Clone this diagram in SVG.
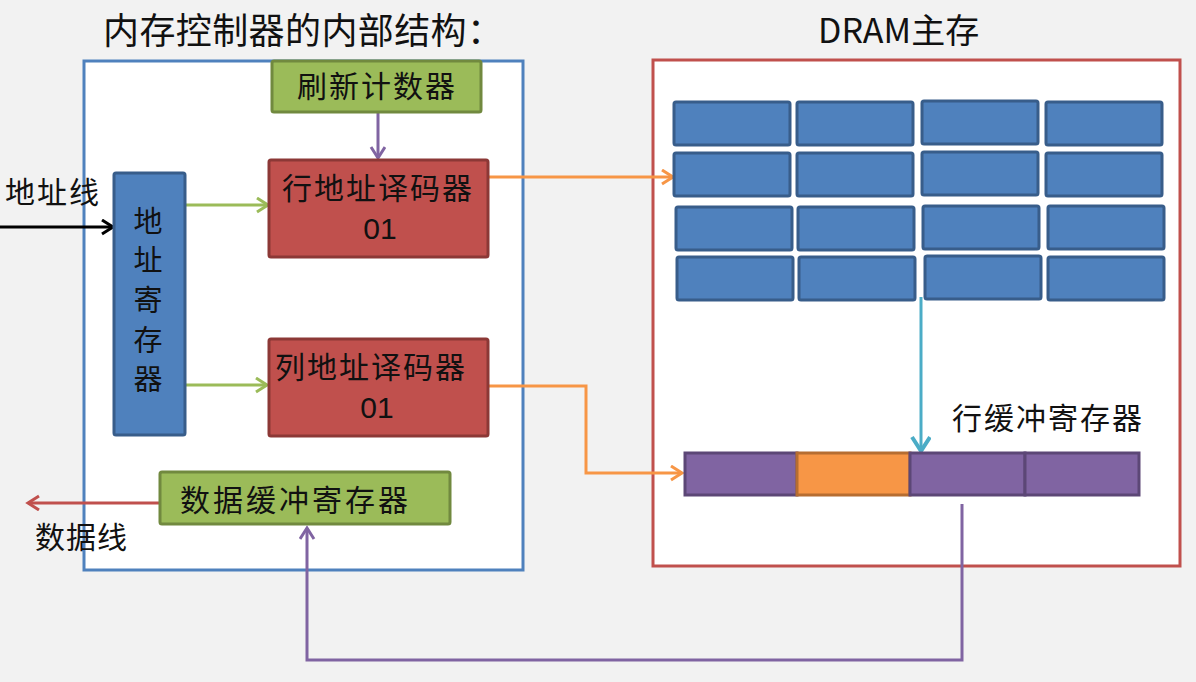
<svg xmlns="http://www.w3.org/2000/svg" width="1196" height="682" viewBox="0 0 1196 682">
<style>
text{font-family:"Noto Sans CJK SC","Liberation Sans",sans-serif;fill:#111;}
.cj{font-size:30px;letter-spacing:2px;}
.vt{font-size:29px;}
.num{font-family:"Liberation Sans","Noto Sans CJK SC",sans-serif;font-size:30px;}
.green{fill:#9bbb59;stroke:#71893f;stroke-width:3;}
.red{fill:#c0504d;stroke:#8c3836;stroke-width:3;}
.blue{fill:#4f81bd;stroke:#385d8a;stroke-width:3;}
.pur{fill:#8064a2;stroke:#5c4776;stroke-width:3;}
.org{fill:#f79646;stroke:#b66d31;stroke-width:3;}
.ln{fill:none;stroke-width:3;}
</style>
<defs>
<marker id="aK" markerUnits="userSpaceOnUse" markerWidth="16" markerHeight="18" refX="13" refY="8" orient="auto"><path d="M2,1 L13,8 L2,15" fill="none" stroke="#000" stroke-width="3"/></marker>
<marker id="aG" markerUnits="userSpaceOnUse" markerWidth="16" markerHeight="18" refX="13" refY="8" orient="auto"><path d="M2,1 L13,8 L2,15" fill="none" stroke="#9bbb59" stroke-width="3"/></marker>
<marker id="aP" markerUnits="userSpaceOnUse" markerWidth="16" markerHeight="18" refX="13" refY="8" orient="auto"><path d="M2,1 L13,8 L2,15" fill="none" stroke="#8064a2" stroke-width="3"/></marker>
<marker id="aO" markerUnits="userSpaceOnUse" markerWidth="16" markerHeight="18" refX="13" refY="8" orient="auto"><path d="M2,1 L13,8 L2,15" fill="none" stroke="#f79646" stroke-width="3"/></marker>
<marker id="aR" markerUnits="userSpaceOnUse" markerWidth="16" markerHeight="18" refX="13" refY="8" orient="auto"><path d="M2,1 L13,8 L2,15" fill="none" stroke="#c0504d" stroke-width="3"/></marker>
<marker id="aT" markerUnits="userSpaceOnUse" markerWidth="20" markerHeight="22" refX="16" refY="10" orient="auto"><path d="M2,1 L16,10 L2,19" fill="none" stroke="#4bacc6" stroke-width="4"/></marker>
</defs>
<rect width="1196" height="682" fill="#f2f2f2"/>

<text x="103" y="44" font-size="36" textLength="400" lengthAdjust="spacing">内存控制器的内部结构：</text>
<text x="818" y="43" font-size="34" font-family="Liberation Sans, Noto Sans CJK SC, sans-serif">DRAM主存</text>

<g id="controller">
<rect x="84" y="61" width="439" height="509" fill="#fff" stroke="#4f81bd" stroke-width="3"/>
</g>
<g id="dram">
<rect x="653" y="60" width="527" height="506" fill="#fff" stroke="#c0504d" stroke-width="3"/>
</g>

<g id="connectors">
<path class="ln" stroke="#000" d="M0,227 L113,227" marker-end="url(#aK)"/>
<path class="ln" stroke="#8064a2" d="M378,113 L378,158" marker-end="url(#aP)"/>
<path class="ln" stroke="#9bbb59" d="M186,205 L268,205" marker-end="url(#aG)"/>
<path class="ln" stroke="#9bbb59" d="M186,385 L267,385" marker-end="url(#aG)"/>
<path class="ln" stroke="#f79646" d="M489,177 L673,177" marker-end="url(#aO)"/>
<path class="ln" stroke="#f79646" d="M489,386 L586,386 L586,473 L682,473" marker-end="url(#aO)"/>
<path class="ln" stroke="#c0504d" d="M160,503 L28,503" marker-end="url(#aR)"/>
<path class="ln" stroke="#8064a2" d="M962,504 L962,660 L307,660 L307,528" marker-end="url(#aP)"/>
<path class="ln" stroke="#4bacc6" stroke-width="4" d="M921,297 L921,451" marker-end="url(#aT)"/>
</g>

<g id="refresh-counter">
<rect class="green" x="272" y="61" width="209" height="51" rx="2"/>
<text class="cj" x="377" y="97" text-anchor="middle">刷新计数器</text>
</g>
<g id="row-decoder">
<rect class="red" x="269" y="160" width="219" height="97" rx="2"/>
<text class="cj" x="378" y="199" text-anchor="middle">行地址译码器</text>
<text class="num" x="380" y="239" text-anchor="middle">01</text>
</g>
<g id="col-decoder">
<rect class="red" x="269" y="339" width="219" height="97" rx="2"/>
<text class="cj" x="371" y="378" text-anchor="middle">列地址译码器</text>
<text class="num" x="377" y="418" text-anchor="middle">01</text>
</g>
<g id="address-register">
<rect class="blue" x="114" y="173" width="71" height="262" rx="2"/>
<text class="vt" x="148" y="232" text-anchor="middle">地</text>
<text class="vt" x="148" y="271" text-anchor="middle">址</text>
<text class="vt" x="148" y="311" text-anchor="middle">寄</text>
<text class="vt" x="148" y="351" text-anchor="middle">存</text>
<text class="vt" x="148" y="390" text-anchor="middle">器</text>
</g>
<g id="data-buffer">
<rect class="green" x="160" y="472" width="290" height="52" rx="2"/>
<text class="cj" x="180" y="511" textLength="230" lengthAdjust="spacing">数据缓冲寄存器</text>
</g>
<g id="labels">
<text class="cj" x="5" y="203" textLength="96" lengthAdjust="spacing">地址线</text>
<text class="cj" x="35" y="548" textLength="94" lengthAdjust="spacing">数据线</text>
<text class="cj" x="952" y="429" textLength="192" lengthAdjust="spacing">行缓冲寄存器</text>
</g>

<g id="memory-array">
<rect class="blue" x="674" y="102" width="116" height="43" rx="2"/>
<rect class="blue" x="797" y="102" width="116" height="43" rx="2"/>
<rect class="blue" x="922" y="101" width="116" height="43" rx="2"/>
<rect class="blue" x="1046" y="102" width="116" height="43" rx="2"/>
<rect class="blue" x="674" y="153" width="116" height="43" rx="2"/>
<rect class="blue" x="797" y="153" width="116" height="43" rx="2"/>
<rect class="blue" x="922" y="152" width="116" height="43" rx="2"/>
<rect class="blue" x="1046" y="153" width="116" height="43" rx="2"/>
<rect class="blue" x="676" y="207" width="116" height="43" rx="2"/>
<rect class="blue" x="798" y="207" width="116" height="43" rx="2"/>
<rect class="blue" x="923" y="206" width="116" height="43" rx="2"/>
<rect class="blue" x="1048" y="206" width="116" height="43" rx="2"/>
<rect class="blue" x="677" y="257" width="116" height="43" rx="2"/>
<rect class="blue" x="799" y="257" width="116" height="43" rx="2"/>
<rect class="blue" x="925" y="256" width="116" height="43" rx="2"/>
<rect class="blue" x="1048" y="257" width="116" height="43" rx="2"/>
</g>
<g id="row-buffer">
<rect class="pur" x="685" y="453" width="112" height="42"/>
<rect class="org" x="797" y="453" width="113" height="42"/>
<rect class="pur" x="910" y="453" width="115" height="42"/>
<rect class="pur" x="1025" y="453" width="114" height="42"/>
</g>
</svg>
